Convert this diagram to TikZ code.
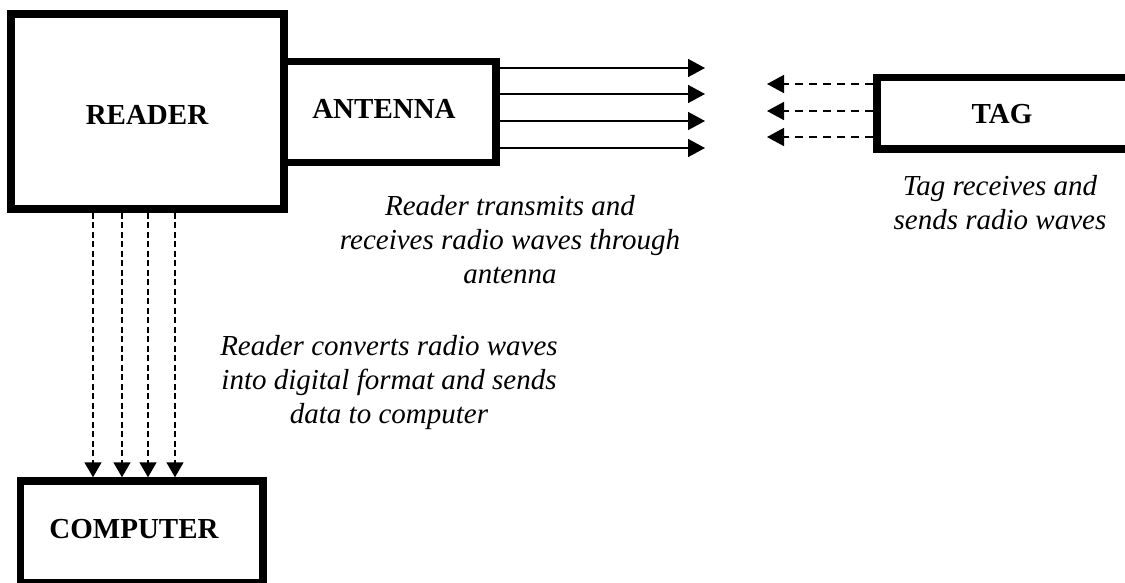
\documentclass[tikz,border=0pt]{standalone}
\usepackage{fontspec}
\setmainfont{Liberation Serif}
\usetikzlibrary{arrows.meta}

\tikzset{
  block/.style={draw=black, line width=7.5pt, fill=white, inner sep=0pt},
  blocklabel/.style={inner sep=0pt, anchor=base, font=\fontsize{29}{34}\selectfont\bfseries},
  caption/.style={inner sep=0pt, anchor=north, align=center, font=\fontsize{29}{34}\selectfont\itshape},
  txwave/.style={line width=1.6pt, -{Triangle[length=17pt,width=18pt]}},
  rxwave/.style={line width=1.6pt, dash pattern=on 8pt off 6pt, -{Triangle[length=17pt,width=18pt]}},
  datalink/.style={line width=1.6pt, dash pattern=on 6pt off 3.5pt, -{Triangle[length=15pt,width=17pt]}}
}

\begin{document}
\begin{tikzpicture}[x=1pt, y=-1pt]
  \useasboundingbox (0,0) rectangle (1125,582);
  \clip (0,0) rectangle (1125,582);

  % boxes (antenna first, so the reader's border lies on top of the shared edge)
  \node[block, minimum width=212pt, minimum height=101pt] (antenna) at (390,112) {};
  \node[block, minimum width=273pt, minimum height=195pt] (reader) at (147.5,111.5) {};
  \node[block, minimum width=300pt, minimum height=71.5pt] (tag) at (1027,113.25) {};
  \node[block, minimum width=242.5pt, minimum height=102pt] (computer) at (141.75,532) {};

  % box labels
  \node[blocklabel] (readertext) at (147,124) {READER};
  \node[blocklabel] (antennatext) at (384,118) {ANTENNA};
  \node[blocklabel] (tagtext) at (1002,123) {TAG};
  \node[blocklabel] (computertext) at (134,538) {COMPUTER};

  % radio waves sent by the antenna
  \foreach \yy [count=\i] in {68,94,121,148} {
    \coordinate (tx\i) at (705,\yy);
    \draw[txwave] (antenna.east |- tx\i) -- (tx\i);
  }

  % radio waves sent back by the tag
  \foreach \yy [count=\i] in {84,111,137} {
    \coordinate (rx\i) at (767,\yy);
    \draw[rxwave] (tag.west |- rx\i) -- (rx\i);
  }

  % data from the reader to the computer
  \foreach \xx in {93,122,148,175} {
    \coordinate (col) at (\xx,0);
    \draw[datalink] (reader.south -| col) -- (computer.north -| col);
  }

  % captions
  \node[caption] (antennacap) at (510,195) {Reader transmits and\\receives radio waves through\\antenna};
  \node[caption] (tagcap) at (1000,175) {Tag receives and\\sends radio waves};
  \node[caption] (computercap) at (389,335) {Reader converts radio waves\\into digital format and sends\\data to computer};
\end{tikzpicture}
\end{document}
